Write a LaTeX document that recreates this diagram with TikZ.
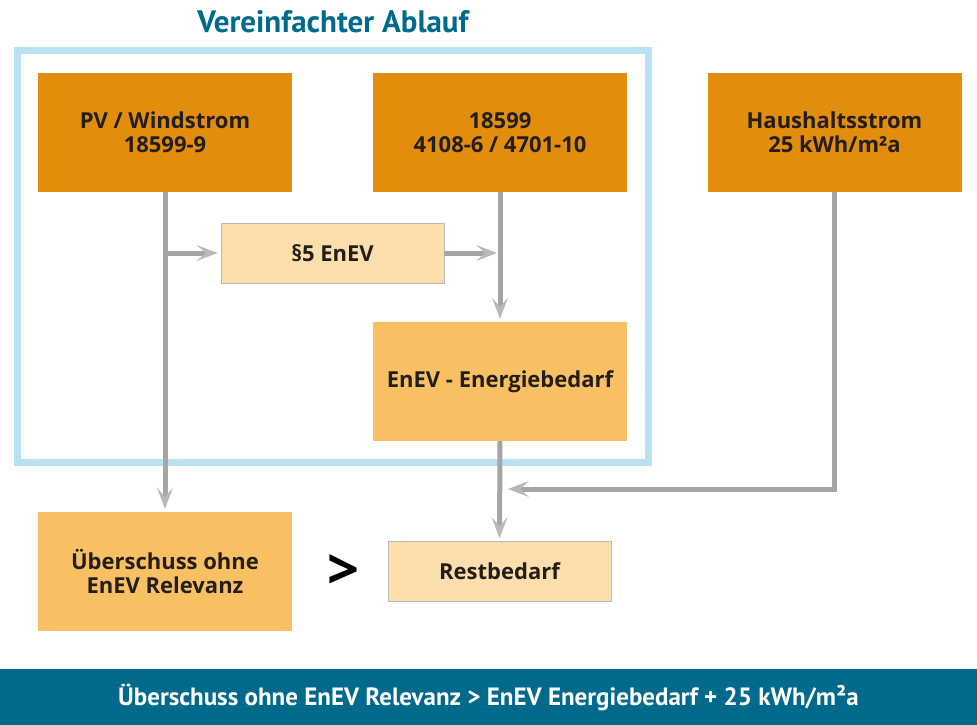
\documentclass[tikz,border=0pt]{standalone}
\usepackage{fontspec}
\setmainfont{Open Sans}
\newfontfamily\titlefont{PT Sans}
\usetikzlibrary{arrows.meta}
\definecolor{dorange}{RGB}{226,141,12}
\definecolor{morange}{RGB}{248,192,98}
\definecolor{lorange}{RGB}{252,221,172}
\definecolor{lblue}{RGB}{184,226,242}
\definecolor{teal}{RGB}{0,106,140}
\definecolor{lgray}{RGB}{165,165,165}
\definecolor{hgray}{RGB}{185,185,185}
\definecolor{txt}{RGB}{35,30,25}
\begin{document}
\begin{tikzpicture}[x=1pt,y=-1pt,
  boxbase/.style={inner sep=0pt, align=center, font=\fontsize{22}{24}\selectfont\bfseries, text=txt},
  bigbox/.style={boxbase, minimum width=254pt, minimum height=119pt},
  smallbox/.style={boxbase, minimum width=223pt, minimum height=60pt, fill=lorange, draw=hgray, line width=0.8pt},
  conn/.style={draw=lgray, line width=5pt, shorten >=3pt, -{Stealth[length=21pt,width=16pt,inset=9pt,line width=0pt,fill=hgray,color=hgray]}}]
\useasboundingbox (0,0) rectangle (977,725);
\fill[white] (0,0) rectangle (977,725);
% title
\node[font=\titlefont\fontsize{31}{34}\selectfont\bfseries, text=teal] (title) at (333,22) {Vereinfachter Ablauf};
% frame
\draw[lblue, line width=7pt] (17,51) rectangle (648,462);
% boxes
\node[bigbox, fill=dorange] (pv) at (165,132.5) {PV / Windstrom\\18599-9};
\node[bigbox, fill=dorange] (din) at (500,132.5) {18599\\4108-6 / 4701-10};
\node[bigbox, fill=dorange] (hh) at (834.5,132.5) {Haushaltsstrom\\25 kWh/m²a};
\node[smallbox] (enev5) at (332.5,253) {§5 EnEV};
\node[bigbox, fill=morange] (bed) at (500,381.5) {EnEV - Energiebedarf};
\node[bigbox, fill=morange] (ueb) at (165,571.5) {Überschuss ohne\\EnEV Relevanz};
\node[smallbox] (rest) at (499.5,571.5) {Restbedarf};
\node[font=\fontsize{56}{56}\selectfont\bfseries, text=black] (gt) at (343,572) {>};
% banner
\fill[teal] (0,669) rectangle (977,725);
\node[font=\titlefont\fontsize{25}{28}\selectfont\bfseries, text=white] (ban) at (488.5,697) {Überschuss ohne EnEV Relevanz > EnEV Energiebedarf + 25 kWh/m²a};
% connectors
\coordinate (j1) at (pv.south |- enev5.west);
\coordinate (j2) at (din.south |- enev5.east);
\coordinate (j3) at (bed.south |- 0,489);
\draw[conn] (pv.south) -- (ueb.north);
\draw[conn] (j1) -- (enev5.west);
\draw[conn] (enev5.east) -- (j2);
\draw[conn] (din.south) -- (bed.north);
\draw[conn] (bed.south) -- (rest.north);
\draw[conn] (hh.south) |- ([xshift=5pt]j3);
\end{tikzpicture}
\end{document}
